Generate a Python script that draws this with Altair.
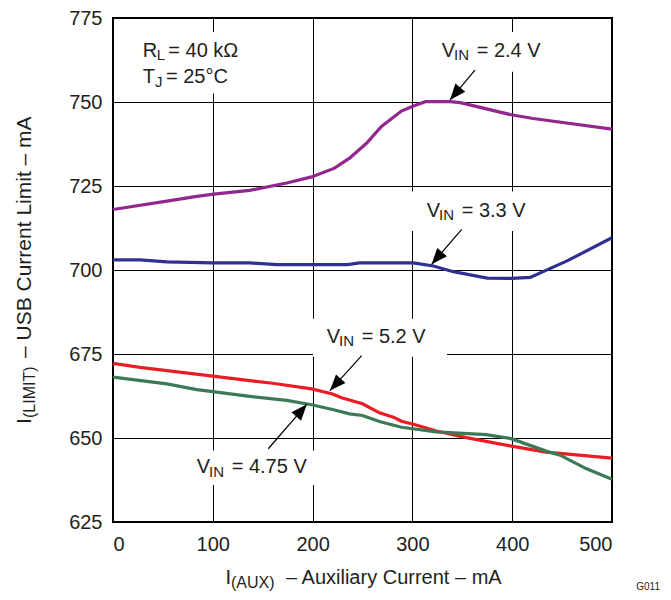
import math
import altair as alt
import pandas as pd

# ---------------- data ----------------
vin24_x = [0, 54, 84, 101, 137, 174, 199, 222, 237, 254, 269, 289, 301, 313, 338, 348, 399, 421, 500]
vin24_y = [718.0, 720.5, 721.9, 722.6, 723.7, 725.9, 727.7, 730.3, 733.3, 737.7, 742.7, 747.3, 748.8,
           750.1, 750.1, 749.8, 746.2, 745.1, 741.9]

vin33_x = [0, 27, 54, 100, 137, 164, 235, 247, 301, 321, 341, 375, 400, 418, 455, 500]
vin33_y = [703.0, 703.0, 702.4, 702.1, 702.1, 701.6, 701.6, 702.1, 702.1, 701.2, 699.5, 697.6,
           697.5, 697.8, 702.7, 709.6]

vin52_x = [0, 27, 100, 160, 199, 220, 229, 250, 267, 281, 289, 301, 324, 354, 399, 434, 500]
vin52_y = [672.2, 671.0, 668.4, 666.3, 664.6, 663.1, 662.0, 660.2, 657.5, 656.2, 655.0, 654.1,
           652.1, 650.1, 647.6, 645.8, 644.0]

vin475_x = [0, 54, 84, 100, 137, 174, 199, 220, 237, 250, 267, 289, 324, 374, 399, 434, 448, 474, 500]
vin475_y = [668.1, 666.1, 664.4, 663.8, 662.4, 661.2, 659.9, 658.5, 657.2, 656.7, 654.9, 653.2,
            651.8, 651.0, 649.8, 646.1, 644.9, 640.9, 637.7]

series_names = ["2.4 V", "3.3 V", "5.2 V", "4.75 V"]
series_colors = ["#92278F", "#2E3192", "#ED1C24", "#3B7A57"]

x_ticks = [0, 100, 200, 300, 400, 500]
y_ticks = [625, 650, 675, 700, 725, 750, 775]

# annotation arrows (data units): start of shaft -> tip
arrow_sx = [362.7, 349.4, 249.2, 155.6]
arrow_sy = [759.5, 712.1, 674.5, 646.8]
arrow_tx = [337.7, 319.3, 217.4, 194.1]
arrow_ty = [750.6, 701.7, 664.1, 660.0]

# white label backgrounds (data units)
box_x1 = [22.0, 319.6, 292.6, 200.4, 77.2]
box_x2 = [137.3, 439.9, 439.9, 334.7, 205.4]
box_y1 = [770.8, 770.8, 723.4, 685.5, 646.3]
box_y2 = [752.5, 759.0, 711.6, 674.2, 636.0]

# ---------------- layout ----------------
PAD_L, PAD_T, PAD_R, PAD_B = 105, 10, 51, 70
W, H = 499, 504
OX, OY = 8 + PAD_L, 8 + PAD_T          # page position of the plot origin
FONT = "Liberation Sans"
INK = "#231F20"

rows = []
for name, xs, ys in [("2.4 V", vin24_x, vin24_y), ("3.3 V", vin33_x, vin33_y),
                     ("5.2 V", vin52_x, vin52_y), ("4.75 V", vin475_x, vin475_y)]:
    for i, (a, b) in enumerate(zip(xs, ys)):
        rows.append({"series": name, "x": a, "y": b, "order": i})
df = pd.DataFrame(rows)

kx, ky = W / 500.0, H / 150.0
angles = []
for sx, sy, tx, ty in zip(arrow_sx, arrow_sy, arrow_tx, arrow_ty):
    dxp = (tx - sx) * kx
    dyp = -(ty - sy) * ky
    angles.append(math.degrees(math.atan2(dxp, -dyp)) % 360)
arrows = pd.DataFrame({"sx": arrow_sx, "sy": arrow_sy, "tx": arrow_tx, "ty": arrow_ty, "ang": angles})
boxes = pd.DataFrame({"x1": box_x1, "x2": box_x2, "y1": box_y1, "y2": box_y2})

xscale = alt.Scale(domain=[0, 500], nice=False, zero=False)
yscale = alt.Scale(domain=[625, 775], nice=False, zero=False)

lines = alt.Chart(df).mark_line(strokeWidth=3.2, clip=True).encode(
    x=alt.X("x:Q", scale=xscale, title=None,
            axis=alt.Axis(values=x_ticks, grid=True, ticks=False, domain=False,
                          labelPadding=12, labelFontSize=20, labelFont=FONT, labelColor=INK,
                          gridColor="black", gridWidth=1, gridOpacity=1)),
    y=alt.Y("y:Q", scale=yscale, title=None,
            axis=alt.Axis(values=y_ticks, grid=True, ticks=False, domain=False,
                          labelPadding=11, labelFontSize=20, labelFont=FONT, labelColor=INK,
                          gridColor="black", gridWidth=1, gridOpacity=1)),
    color=alt.Color("series:N", scale=alt.Scale(domain=series_names, range=series_colors), legend=None),
    order="order:Q",
)

rects = alt.Chart(boxes).mark_rect(color="white").encode(
    x=alt.X("x1:Q", scale=xscale), x2="x2:Q",
    y=alt.Y("y1:Q", scale=yscale), y2="y2:Q",
)

shafts = alt.Chart(arrows).mark_rule(color="black", strokeWidth=1.2).encode(
    x=alt.X("sx:Q", scale=xscale), y=alt.Y("sy:Q", scale=yscale),
    x2="tx:Q", y2="ty:Q",
)

heads = alt.Chart(arrows).mark_point(
    shape="M0,0L0.4,1L-0.4,1Z", filled=True, color="black", opacity=1, size=1024, strokeWidth=0
).encode(
    x=alt.X("tx:Q", scale=xscale), y=alt.Y("ty:Q", scale=yscale),
    angle=alt.Angle("ang:Q", scale=None),
)

# text annotations: page positions (converted to plot-area pixels below)
labels = [
    ("R", 142.7, 56.7, 20), ("L", 156.7, 60.0, 15), ("= 40 k\u03a9", 168.3, 56.7, 20),
    ("T", 142.7, 83.3, 20), ("J", 155.0, 86.7, 15), ("= 25\u00b0C", 166.0, 83.3, 20),
    ("V", 441.7, 56.7, 20), ("IN", 454.0, 60.0, 15), ("= 2.4 V", 476.7, 56.7, 20),
    ("V", 426.7, 216.7, 20), ("IN", 439.0, 220.0, 15), ("= 3.3 V", 461.7, 216.7, 20),
    ("V", 326.7, 342.7, 20), ("IN", 339.0, 346.0, 15), ("= 5.2 V", 361.7, 342.7, 20),
    ("V", 196.7, 473.3, 20), ("IN", 209.0, 476.7, 15), ("= 4.75 V", 231.7, 473.3, 20),
    ("I", 225.5, 584.0, 20), ("(AUX)", 231.0, 587.5, 16),
    ("\u2013 Auxiliary Current \u2013 mA", 286.0, 584.0, 20),
]
txt = pd.DataFrame([{"t": t, "px": x - OX, "py": y - OY, "fs": s} for t, x, y, s in labels])
texts = alt.Chart(txt).mark_text(align="left", baseline="alphabetic", font=FONT, color=INK).encode(
    x=alt.X("px:Q", scale=None, axis=None),
    y=alt.Y("py:Q", scale=None, axis=None),
    text="t:N",
    size=alt.Size("fs:Q", scale=None, legend=None),
)

ylabels = [
    ("I", 31.0, 424.0, 21), ("(LIMIT)", 35.0, 418.0, 16),
    ("\u2013 USB Current Limit \u2013 mA", 31.0, 358.0, 21),
]
ytxt = pd.DataFrame([{"t": t, "px": x - OX, "py": y - OY, "fs": s} for t, x, y, s in ylabels])
ytexts = alt.Chart(ytxt).mark_text(align="left", baseline="alphabetic", font=FONT, color=INK,
                                   angle=270).encode(
    x=alt.X("px:Q", scale=None, axis=None),
    y=alt.Y("py:Q", scale=None, axis=None),
    text="t:N",
    size=alt.Size("fs:Q", scale=None, legend=None),
)

gtxt = pd.DataFrame([{"t": "G011", "px": 660.0 - OX, "py": 590.0 - OY}])
gtext = alt.Chart(gtxt).mark_text(align="right", baseline="alphabetic", font=FONT, color=INK,
                                  fontSize=10).encode(
    x=alt.X("px:Q", scale=None, axis=None),
    y=alt.Y("py:Q", scale=None, axis=None),
    text="t:N",
)

chart = alt.layer(rects, lines, shafts, heads, texts, ytexts, gtext).resolve_scale(
    x="shared", y="shared"
).properties(
    width=W, height=H,
    autosize=alt.AutoSizeParams(type="none"),
    padding={"left": PAD_L, "top": PAD_T, "right": PAD_R, "bottom": PAD_B},
    background="white",
).configure_view(
    stroke="black", strokeWidth=2
)

chart.save("out.html", embed_options={"renderer": "svg", "actions": False})
